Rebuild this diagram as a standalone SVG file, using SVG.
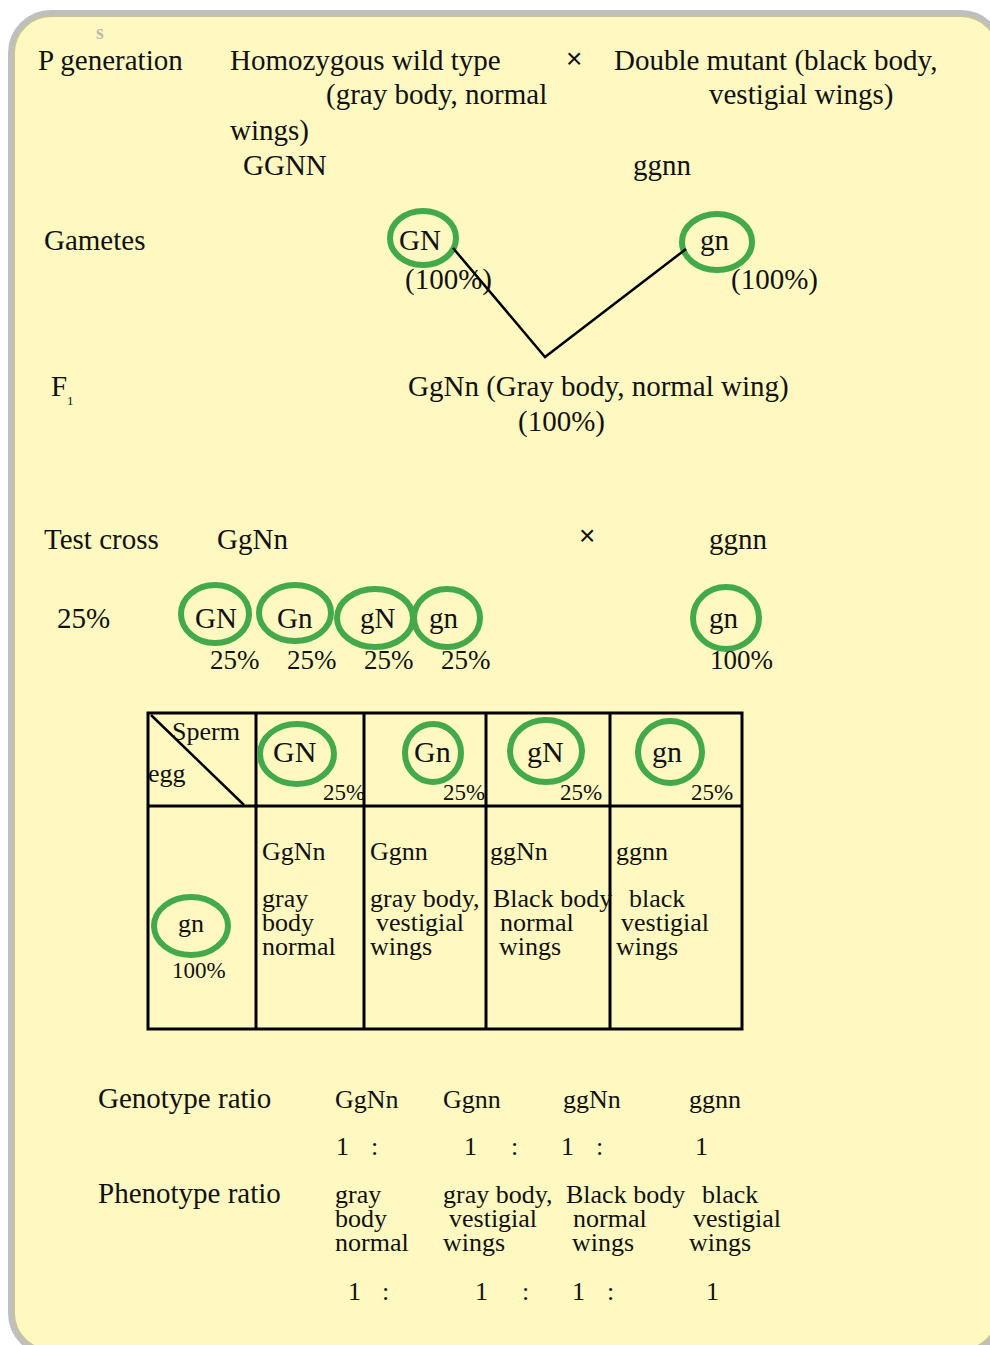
<svg xmlns="http://www.w3.org/2000/svg" width="990" height="1345" viewBox="0 0 990 1345">
<style>
text{font-family:"Liberation Serif","Times New Roman",serif;fill:#111;}
.m{font-size:29px;}
.t{font-size:26px;}
.p{font-size:27px;}
.s{font-size:23px;}
.x{font-family:"Liberation Sans",Arial,sans-serif;font-size:28px;}
.ring{fill:none;stroke:#43a94a;stroke-width:6;}
.grid{stroke:#000;stroke-width:3;fill:none;}
.conn{stroke:#000;stroke-width:2.5;fill:none;}
</style>
<rect width="990" height="1345" fill="#ffffff"/>
<g id="panel">
<rect x="11" y="13" width="990" height="1340" rx="40" fill="#fff9c1" stroke="#bfbfbf" stroke-width="6"/>
<rect x="14" y="16" width="984" height="1334" rx="37" fill="none" stroke="#c9c39a" stroke-width="2"/>
<text x="96" y="39" style="font-size:20px;font-weight:bold;fill:#bdbdb0">s</text>
</g>
<g id="p-generation">
<text class="m" x="38" y="70">P generation</text>
<text class="m" x="230" y="70">Homozygous wild type</text>
<text class="m" x="326" y="104">(gray body, normal</text>
<text class="m" x="230" y="140">wings)</text>
<text class="m" x="243" y="175">GGNN</text>
<text class="x" x="566" y="68">×</text>
<text class="m" x="614" y="70">Double mutant (black body,</text>
<text class="m" x="709" y="104">vestigial wings)</text>
<text class="m" x="633" y="175">ggnn</text>
</g>
<g id="gametes">
<text class="m" x="44" y="250">Gametes</text>
<ellipse class="ring" cx="423" cy="238" rx="33" ry="27"/>
<text class="m" x="399" y="250">GN</text>
<text class="m" x="405" y="289">(100%)</text>
<ellipse class="ring" cx="717" cy="242" rx="35" ry="28"/>
<text class="m" x="700" y="250">gn</text>
<text class="m" x="731" y="289">(100%)</text>
</g>
<g id="connectors">
<polyline class="conn" points="453,248 545,357 686,249"/>
</g>
<g id="f1">
<text class="m" x="51" y="396">F</text>
<text x="67" y="405" style="font-size:13px">1</text>
<text class="m" x="408" y="396">GgNn (Gray body, normal wing)</text>
<text class="m" x="518" y="431">(100%)</text>
</g>
<g id="test-cross">
<text class="m" x="44" y="549">Test cross</text>
<text class="m" x="217" y="549">GgNn</text>
<text class="x" x="579" y="545">×</text>
<text class="m" x="709" y="549">ggnn</text>
<text class="m" x="57" y="628">25%</text>
<ellipse class="ring" cx="215" cy="614" rx="34" ry="29"/>
<text class="m" x="195" y="628">GN</text>
<ellipse class="ring" cx="295" cy="613" rx="36" ry="28"/>
<text class="m" x="277" y="628">Gn</text>
<ellipse class="ring" cx="375" cy="618" rx="38" ry="29"/>
<text class="m" x="360" y="628">gN</text>
<ellipse class="ring" cx="447" cy="618" rx="33" ry="29"/>
<text class="m" x="429" y="628">gn</text>
<text class="p" x="210" y="669">25%</text>
<text class="p" x="287" y="669">25%</text>
<text class="p" x="364" y="669">25%</text>
<text class="p" x="441" y="669">25%</text>
<ellipse class="ring" cx="726" cy="618" rx="33" ry="31"/>
<text class="m" x="709" y="628">gn</text>
<text class="p" x="710" y="669">100%</text>
</g>
<g id="punnett">
<rect class="grid" x="148" y="713" width="594" height="316"/>
<line class="grid" x1="148" y1="806" x2="742" y2="806"/>
<line class="grid" x1="256" y1="713" x2="256" y2="1029"/>
<line class="grid" x1="364" y1="713" x2="364" y2="1029"/>
<line class="grid" x1="486" y1="713" x2="486" y2="1029"/>
<line class="grid" x1="610" y1="713" x2="610" y2="1029"/>
<line x1="151" y1="715" x2="244" y2="805" stroke="#000" stroke-width="2.5"/>
<text class="t" x="172" y="740">Sperm</text>
<text class="t" x="148" y="782">egg</text>
<ellipse class="ring" cx="297" cy="754" rx="37" ry="30"/>
<text x="273" y="762" style="font-size:30px">GN</text>
<text class="s" x="323" y="800">25%</text>
<ellipse class="ring" cx="433" cy="753" rx="28" ry="29"/>
<text x="414" y="762" style="font-size:30px">Gn</text>
<text class="s" x="443" y="800">25%</text>
<ellipse class="ring" cx="546" cy="751" rx="36" ry="31"/>
<text x="527" y="762" style="font-size:30px">gN</text>
<text class="s" x="560" y="800">25%</text>
<ellipse class="ring" cx="670" cy="752" rx="32" ry="31"/>
<text x="652" y="762" style="font-size:30px">gn</text>
<text class="s" x="691" y="800">25%</text>
<ellipse class="ring" cx="191" cy="926" rx="37" ry="29"/>
<text class="t" x="178" y="932">gn</text>
<text class="s" x="172" y="978">100%</text>
<text class="t" x="262" y="860">GgNn</text>
<text class="t" x="370" y="860">Ggnn</text>
<text class="t" x="490" y="860">ggNn</text>
<text class="t" x="616" y="860">ggnn</text>
<text class="t" x="262" y="907">gray</text>
<text class="t" x="262" y="931">body</text>
<text class="t" x="262" y="955">normal</text>
<text class="t" x="370" y="907">gray body,</text>
<text class="t" x="376" y="931">vestigial</text>
<text class="t" x="370" y="955">wings</text>
<text class="t" x="493" y="907">Black body</text>
<text class="t" x="500" y="931">normal</text>
<text class="t" x="499" y="955">wings</text>
<text class="t" x="629" y="907">black</text>
<text class="t" x="621" y="931">vestigial</text>
<text class="t" x="616" y="955">wings</text>
</g>
<g id="genotype-ratio">
<text class="m" x="98" y="1108">Genotype ratio</text>
<text class="t" x="335" y="1108">GgNn</text>
<text class="t" x="443" y="1108">Ggnn</text>
<text class="t" x="563" y="1108">ggNn</text>
<text class="t" x="689" y="1108">ggnn</text>
<text class="t" x="336" y="1155">1</text>
<text class="t" x="371" y="1155">:</text>
<text class="t" x="464" y="1155">1</text>
<text class="t" x="511" y="1155">:</text>
<text class="t" x="561" y="1155">1</text>
<text class="t" x="596" y="1155">:</text>
<text class="t" x="695" y="1155">1</text>
</g>
<g id="phenotype-ratio">
<text class="m" x="98" y="1203">Phenotype ratio</text>
<text class="t" x="335" y="1203">gray</text>
<text class="t" x="335" y="1227">body</text>
<text class="t" x="335" y="1251">normal</text>
<text class="t" x="443" y="1203">gray body,</text>
<text class="t" x="449" y="1227">vestigial</text>
<text class="t" x="443" y="1251">wings</text>
<text class="t" x="566" y="1203">Black body</text>
<text class="t" x="573" y="1227">normal</text>
<text class="t" x="572" y="1251">wings</text>
<text class="t" x="702" y="1203">black</text>
<text class="t" x="693" y="1227">vestigial</text>
<text class="t" x="689" y="1251">wings</text>
<text class="t" x="348" y="1300">1</text>
<text class="t" x="382" y="1300">:</text>
<text class="t" x="475" y="1300">1</text>
<text class="t" x="522" y="1300">:</text>
<text class="t" x="572" y="1300">1</text>
<text class="t" x="607" y="1300">:</text>
<text class="t" x="706" y="1300">1</text>
</g>
</svg>
